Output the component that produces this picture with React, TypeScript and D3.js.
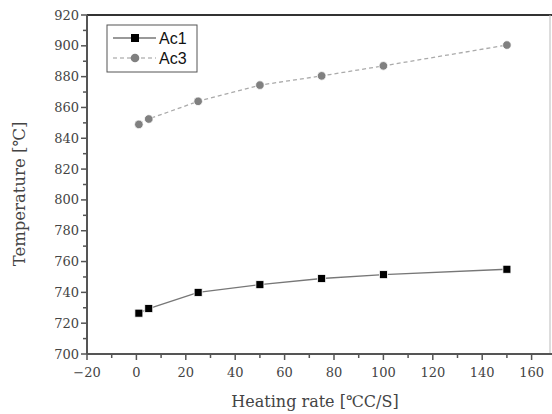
import React from "react";
import * as d3 from "d3";

const rates = [1, 5, 25, 50, 75, 100, 150];
const ac1 = [726.5, 729.5, 740, 745, 749, 751.5, 755];
const ac3 = [849, 852.5, 864, 874.5, 880.5, 887, 900.5];
const xTicks = [-20, 0, 20, 40, 60, 80, 100, 120, 140, 160];
const yTicks = [700, 720, 740, 760, 780, 800, 820, 840, 860, 880, 900, 920];
const seriesNames = ["Ac1", "Ac3"];

const W = 552;
const H = 414;
const L = 87;
const T = 15;
const B = 354;

export default function App() {
  const x = d3.scaleLinear().domain([-20, 170]).range([L, L + 190 * 2.47]);
  const y = d3.scaleLinear().domain([700, 920]).range([B, T]);
  const line = d3
    .line<[number, number]>()
    .x((d) => x(d[0]))
    .y((d) => y(d[1]));
  const d1 = rates.map((r, i) => [r, ac1[i]] as [number, number]);
  const d3s = rates.map((r, i) => [r, ac3[i]] as [number, number]);
  const xMinor = d3.range(-10, 171, 20);
  const yMinor = d3.range(710, 920, 20);
  const serif = "'DejaVu Serif', serif";
  const sans = "'Liberation Sans', Arial, sans-serif";
  const axisCol = "#555";
  const textCol = "#444";
  return (
    <svg
      width={W}
      height={H}
      style={{ position: "absolute", left: 0, top: 0, background: "#fff" }}
    >
      <rect x={0} y={0} width={W} height={H} fill="#fff" />
      {/* frame */}
      <line x1={L} x2={W} y1={T} y2={T} stroke="#333" strokeWidth={2} />
      <line x1={W - 2} x2={W - 2} y1={T} y2={B} stroke="#bbb" strokeWidth={1} />
      <line x1={L} x2={W} y1={B} y2={B} stroke={axisCol} strokeWidth={2} />
      <line x1={L} x2={L} y1={T} y2={B} stroke={axisCol} strokeWidth={2} />
      {/* x ticks */}
      {xTicks.map((t) => (
        <g key={"xt" + t}>
          <line x1={x(t)} x2={x(t)} y1={B} y2={B + 6} stroke={axisCol} strokeWidth={1.5} />
          <text
            x={x(t)}
            y={B + 23}
            textAnchor="middle"
            fontFamily={serif}
            fontSize={13}
            fill={textCol}
          >
            {t < 0 ? "\u2212" + Math.abs(t) : t}
          </text>
        </g>
      ))}
      {xMinor.map((t) => (
        <line key={"xm" + t} x1={x(t)} x2={x(t)} y1={B} y2={B + 4} stroke={axisCol} strokeWidth={1.5} />
      ))}
      {/* y ticks */}
      {yTicks.map((t) => (
        <g key={"yt" + t}>
          <line x1={L - 6} x2={L} y1={y(t)} y2={y(t)} stroke={axisCol} strokeWidth={1.5} />
          <text
            x={L - 8}
            y={y(t) + 4.5}
            textAnchor="end"
            fontFamily={serif}
            fontSize={13}
            fill={textCol}
          >
            {t}
          </text>
        </g>
      ))}
      {yMinor.map((t) => (
        <line key={"ym" + t} x1={L - 4} x2={L} y1={y(t)} y2={y(t)} stroke={axisCol} strokeWidth={1.5} />
      ))}
      {/* axis titles */}
      <text
        x={315}
        y={407}
        textAnchor="middle"
        fontFamily={serif}
        fontSize={16}
        fill={textCol}
      >
        Heating rate [℃C/S]
      </text>
      <text
        transform={`translate(25, 194) rotate(-90)`}
        textAnchor="middle"
        fontFamily={serif}
        fontSize={16.5}
        fill={textCol}
      >
        Temperature [℃]
      </text>
      {/* series */}
      <path d={line(d1) || ""} fill="none" stroke="#777" strokeWidth={1.3} />
      <path
        d={line(d3s) || ""}
        fill="none"
        stroke="#aaa"
        strokeWidth={1.3}
        strokeDasharray="4 3"
      />
      {d1.map((d, i) => (
        <rect
          key={"a1" + i}
          x={x(d[0]) - 4}
          y={y(d[1]) - 4}
          width={8}
          height={8}
          fill="#000"
          stroke="#fff"
          strokeWidth={0.8}
        />
      ))}
      {d3s.map((d, i) => (
        <circle key={"a3" + i} cx={x(d[0])} cy={y(d[1])} r={4.3} fill="#808080" stroke="#fff" strokeWidth={0.8} />
      ))}
      {/* legend */}
      <rect x={107} y={25} width={90} height={47} fill="#fff" stroke="#555" strokeWidth={1} />
      <line x1={113} x2={156} y1={38} y2={38} stroke="#777" strokeWidth={1.3} />
      <rect x={131} y={34} width={8} height={8} fill="#000" />
      <text x={159} y={43.5} fontFamily={sans} fontSize={16} fill="#111">
        {seriesNames[0]}
      </text>
      <line x1={113} x2={156} y1={58} y2={58} stroke="#bbb" strokeWidth={1.3} strokeDasharray="4 3" />
      <circle cx={135} cy={58} r={4.3} fill="#808080" />
      <text x={159} y={63.5} fontFamily={sans} fontSize={16} fill="#111">
        {seriesNames[1]}
      </text>
    </svg>
  );
}
